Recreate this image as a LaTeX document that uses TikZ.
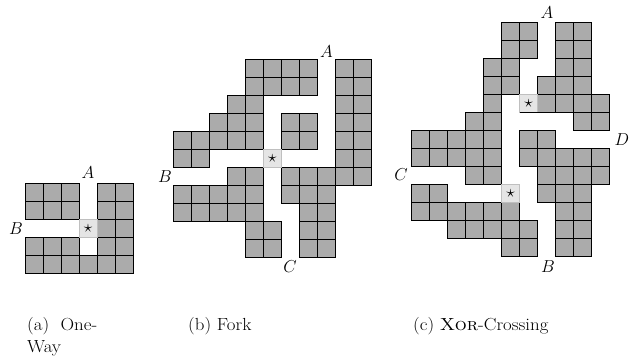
\documentclass[tikz,border=0pt]{standalone}
\begin{document}
\begin{tikzpicture}[x=1pt,y=-1pt,
  cellbox/.style={fill=black!33,draw=black,line width=0.7pt},
  starbox/.style={fill=black!10,draw=black!25,line width=0.5pt},
  lab/.style={inner sep=0pt,font=\fontsize{17.5}{21}\selectfont},
  capt/.style={inner sep=0pt,anchor=base west,font=\fontsize{17.5}{21}\selectfont,xscale=1.08,transform shape}]
\useasboundingbox (0,0) rectangle (635,362);
% (a) One-Way
\begin{scope}[shift={(25,183)}]
  \foreach \r/\cs in {0/{0,1,2,4,5},1/{0,1,2,4,5},2/{4,5},3/{0,1,2,4,5},4/{0,1,2,3,4,5}}
    \foreach \c in \cs
      \draw[cellbox] ({18*\c},{18*\r}) rectangle ++(18,18);
  \draw[starbox] (54,36) rectangle ++(18,18);
  \node[lab] (sa) at (63,45) {$\star$};
\end{scope}
\node[lab] (aA) at (88,173) {$A$};
\node[lab] (aB) at (16,229) {$B$};
% (b) Fork
\begin{scope}[shift={(173.3,59.3)}]
  \foreach \r/\cs in {0/{4,5,6,7,9,10},1/{4,5,6,7,9,10},2/{3,4,9,10},3/{2,3,4,6,7,9,10},
      4/{0,1,2,3,4,6,7,9,10},5/{0,1,9,10},6/{3,4,6,7,8,9,10},7/{0,1,2,3,4,6,7,8},
      8/{0,1,2,3,4,7,8},9/{4,5,7,8},10/{4,5,7,8}}
    \foreach \c in \cs
      \draw[cellbox] ({18*\c},{18*\r}) rectangle ++(18,18);
  \draw[starbox] (90,90) rectangle ++(18,18);
  \node[lab] (sb) at (99,99) {$\star$};
\end{scope}
\node[lab] (bA) at (326.5,52) {$A$};
\node[lab] (bB) at (165,177) {$B$};
\node[lab] (bC) at (290,267) {$C$};
% (c) Xor-Crossing
\begin{scope}[shift={(411.7,22.7)}]
  \foreach \r/\cs in {0/{5,6,8,9},1/{5,6,8,9},2/{4,5,8,9},3/{4,5,7,8,9},4/{4,7,8,9,10},
      5/{3,4,9,10},6/{0,1,2,3,4,6,7},7/{0,1,2,3,4,6,7,8,9,10},8/{3,4,7,8,9,10},
      9/{0,1,7,8,9},10/{0,1,2,3,4,5,8,9},11/{2,3,4,5,6,8,9},12/{5,6,8,9}}
    \foreach \c in \cs
      \draw[cellbox] ({18*\c},{18*\r}) rectangle ++(18,18);
  \draw[starbox] (108,72) rectangle ++(18,18);
  \draw[black,line width=0.7pt] (108,90) -- ++(18,0);
  \node[lab] (sc1) at (117,81) {$\star$};
  \draw[starbox] (90,162) rectangle ++(18,18);
  \node[lab] (sc2) at (99,171) {$\star$};
\end{scope}
\node[lab] (cA) at (547,13) {$A$};
\node[lab] (cB) at (548,267) {$B$};
\node[lab] (cC) at (401,175) {$C$};
\node[lab] (cD) at (622,140) {$D$};
% captions
\node[capt] (capa) at (27,330) {(a)\hspace{0.6em}One-};
\node[capt] (capa2) at (27,352) {Way};
\node[capt] (capb) at (188,330) {(b) Fork};
\node[capt] (capc) at (413,330) {(c) \textsc{Xor}-Crossing};
\end{tikzpicture}
\end{document}
